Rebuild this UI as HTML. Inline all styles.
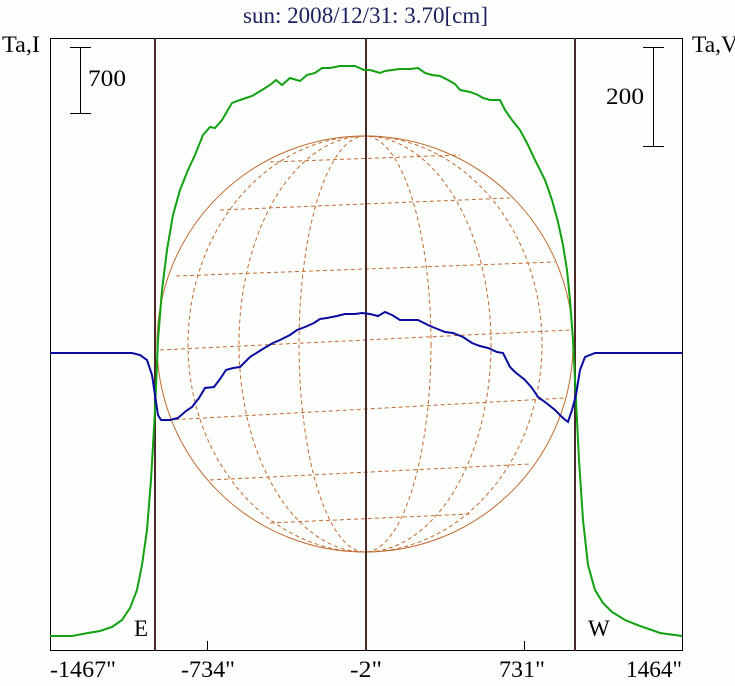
<!DOCTYPE html>
<html><head><style>html,body{margin:0;padding:0;background:#fdfffd;}svg{display:block}</style></head>
<body>
<svg width="735" height="686" viewBox="0 0 735 686" xmlns="http://www.w3.org/2000/svg" font-family="Liberation Serif, serif">
<rect width="735" height="686" fill="#fdfffd"/>
<text x="243" y="23" font-size="23" fill="#202060" textLength="245" lengthAdjust="spacingAndGlyphs">sun: 2008/12/31: 3.70[cm]</text>
<text x="2" y="52" font-size="23" fill="#000" textLength="38" lengthAdjust="spacingAndGlyphs">Ta,I</text>
<text x="692" y="52" font-size="23" fill="#000" textLength="46" lengthAdjust="spacingAndGlyphs">Ta,V</text>
<rect x="50.5" y="38.5" width="632" height="612" fill="none" stroke="#000" stroke-width="1"/>
<g stroke="#000" stroke-width="1">
<line x1="80.5" y1="47" x2="80.5" y2="113"/><line x1="70" y1="47.5" x2="91" y2="47.5"/><line x1="70" y1="113.5" x2="91" y2="113.5"/>
<line x1="653.5" y1="47" x2="653.5" y2="146"/><line x1="643" y1="47.5" x2="664" y2="47.5"/><line x1="643" y1="146.5" x2="664" y2="146.5"/>
<line x1="207.5" y1="641" x2="207.5" y2="651"/><line x1="524.5" y1="641" x2="524.5" y2="651"/>
</g>
<text x="88" y="86" font-size="23" textLength="38" lengthAdjust="spacingAndGlyphs">700</text>
<text x="606" y="104" font-size="23" textLength="38" lengthAdjust="spacingAndGlyphs">200</text>
<g font-size="23">
<text x="50" y="677" textLength="66" lengthAdjust="spacingAndGlyphs">-1467"</text>
<text x="181" y="677" textLength="54" lengthAdjust="spacingAndGlyphs">-734"</text>
<text x="350" y="677" textLength="32" lengthAdjust="spacingAndGlyphs">-2"</text>
<text x="499" y="677" textLength="46" lengthAdjust="spacingAndGlyphs">731"</text>
<text x="626" y="677" textLength="56" lengthAdjust="spacingAndGlyphs">1464"</text>
<text x="134" y="636">E</text><text x="588" y="636">W</text>
</g>
<g fill="none" stroke="#c06a30" stroke-width="1">
<circle cx="365" cy="344" r="208"/>
<g stroke-dasharray="4,3">
<ellipse cx="365" cy="344" rx="66" ry="208"/>
<ellipse cx="365" cy="344" rx="126" ry="208"/>
<ellipse cx="365" cy="344" rx="177" ry="208"/>
<path d="M270 162 L460 155"/>
<path d="M220 210 L510 198"/>
<path d="M176 276 L555 262"/>
<path d="M160 350 L570 330"/>
<path d="M168 420 L565 398"/>
<path d="M210 480 L530 464"/>
<path d="M270 523 L470 514"/>
</g>
</g>
<g stroke="#4a2828" stroke-width="2">
<line x1="155" y1="38" x2="155" y2="651"/><line x1="366" y1="38" x2="366" y2="651"/><line x1="575" y1="38" x2="575" y2="651"/>
</g>
<polyline fill="none" stroke="#10a010" stroke-width="2" points="50,636 72,636 88,633 100,631 112,627 122,620 130,608 137,590 142,565 147,530 151,480 155,410 158,340 162,290 167,250 173,215 180,190 188,170 195,155 203,135 210,127 215,128 222,120 232,103 240,100 252,96 262,90 270,85 276,80 282,85 290,78 300,81 307,75 315,73 322,68 330,68 340,66 347,66 355,66 364,70 370,70 380,73 385,71 392,70 400,69 410,69 418,68 425,73 432,75 440,76 448,80 455,84 460,90 470,92 478,95 483,98 490,100 500,100 505,110 512,120 520,130 528,145 535,160 545,180 552,200 558,222 563,245 567,270 570,300 573,340 576,400 579,460 583,520 588,565 595,590 603,603 612,612 625,620 640,626 660,633 682,636"/>
<polyline fill="none" stroke="#0a0aa0" stroke-width="2" points="50,353 132,353 140,355 147,360 152,375 155,395 158,415 161,420 170,420 178,418 186,411 192,407 199,398 205,388 214,387 220,379 226,370 233,368 240,367 250,357 258,352 266,347 273,343 280,340 290,335 297,330 305,327 314,323 320,319 327,318 337,316 345,314 355,314 362,313 370,314 378,316 385,312 392,315 400,320 408,320 418,320 428,325 435,328 445,332 453,333 463,337 472,343 480,346 488,348 497,352 503,353 510,367 515,372 525,380 532,388 538,397 545,402 555,410 563,418 568,422 572,410 576,395 580,370 585,357 595,353 682,353"/>
</svg>
</body></html>
